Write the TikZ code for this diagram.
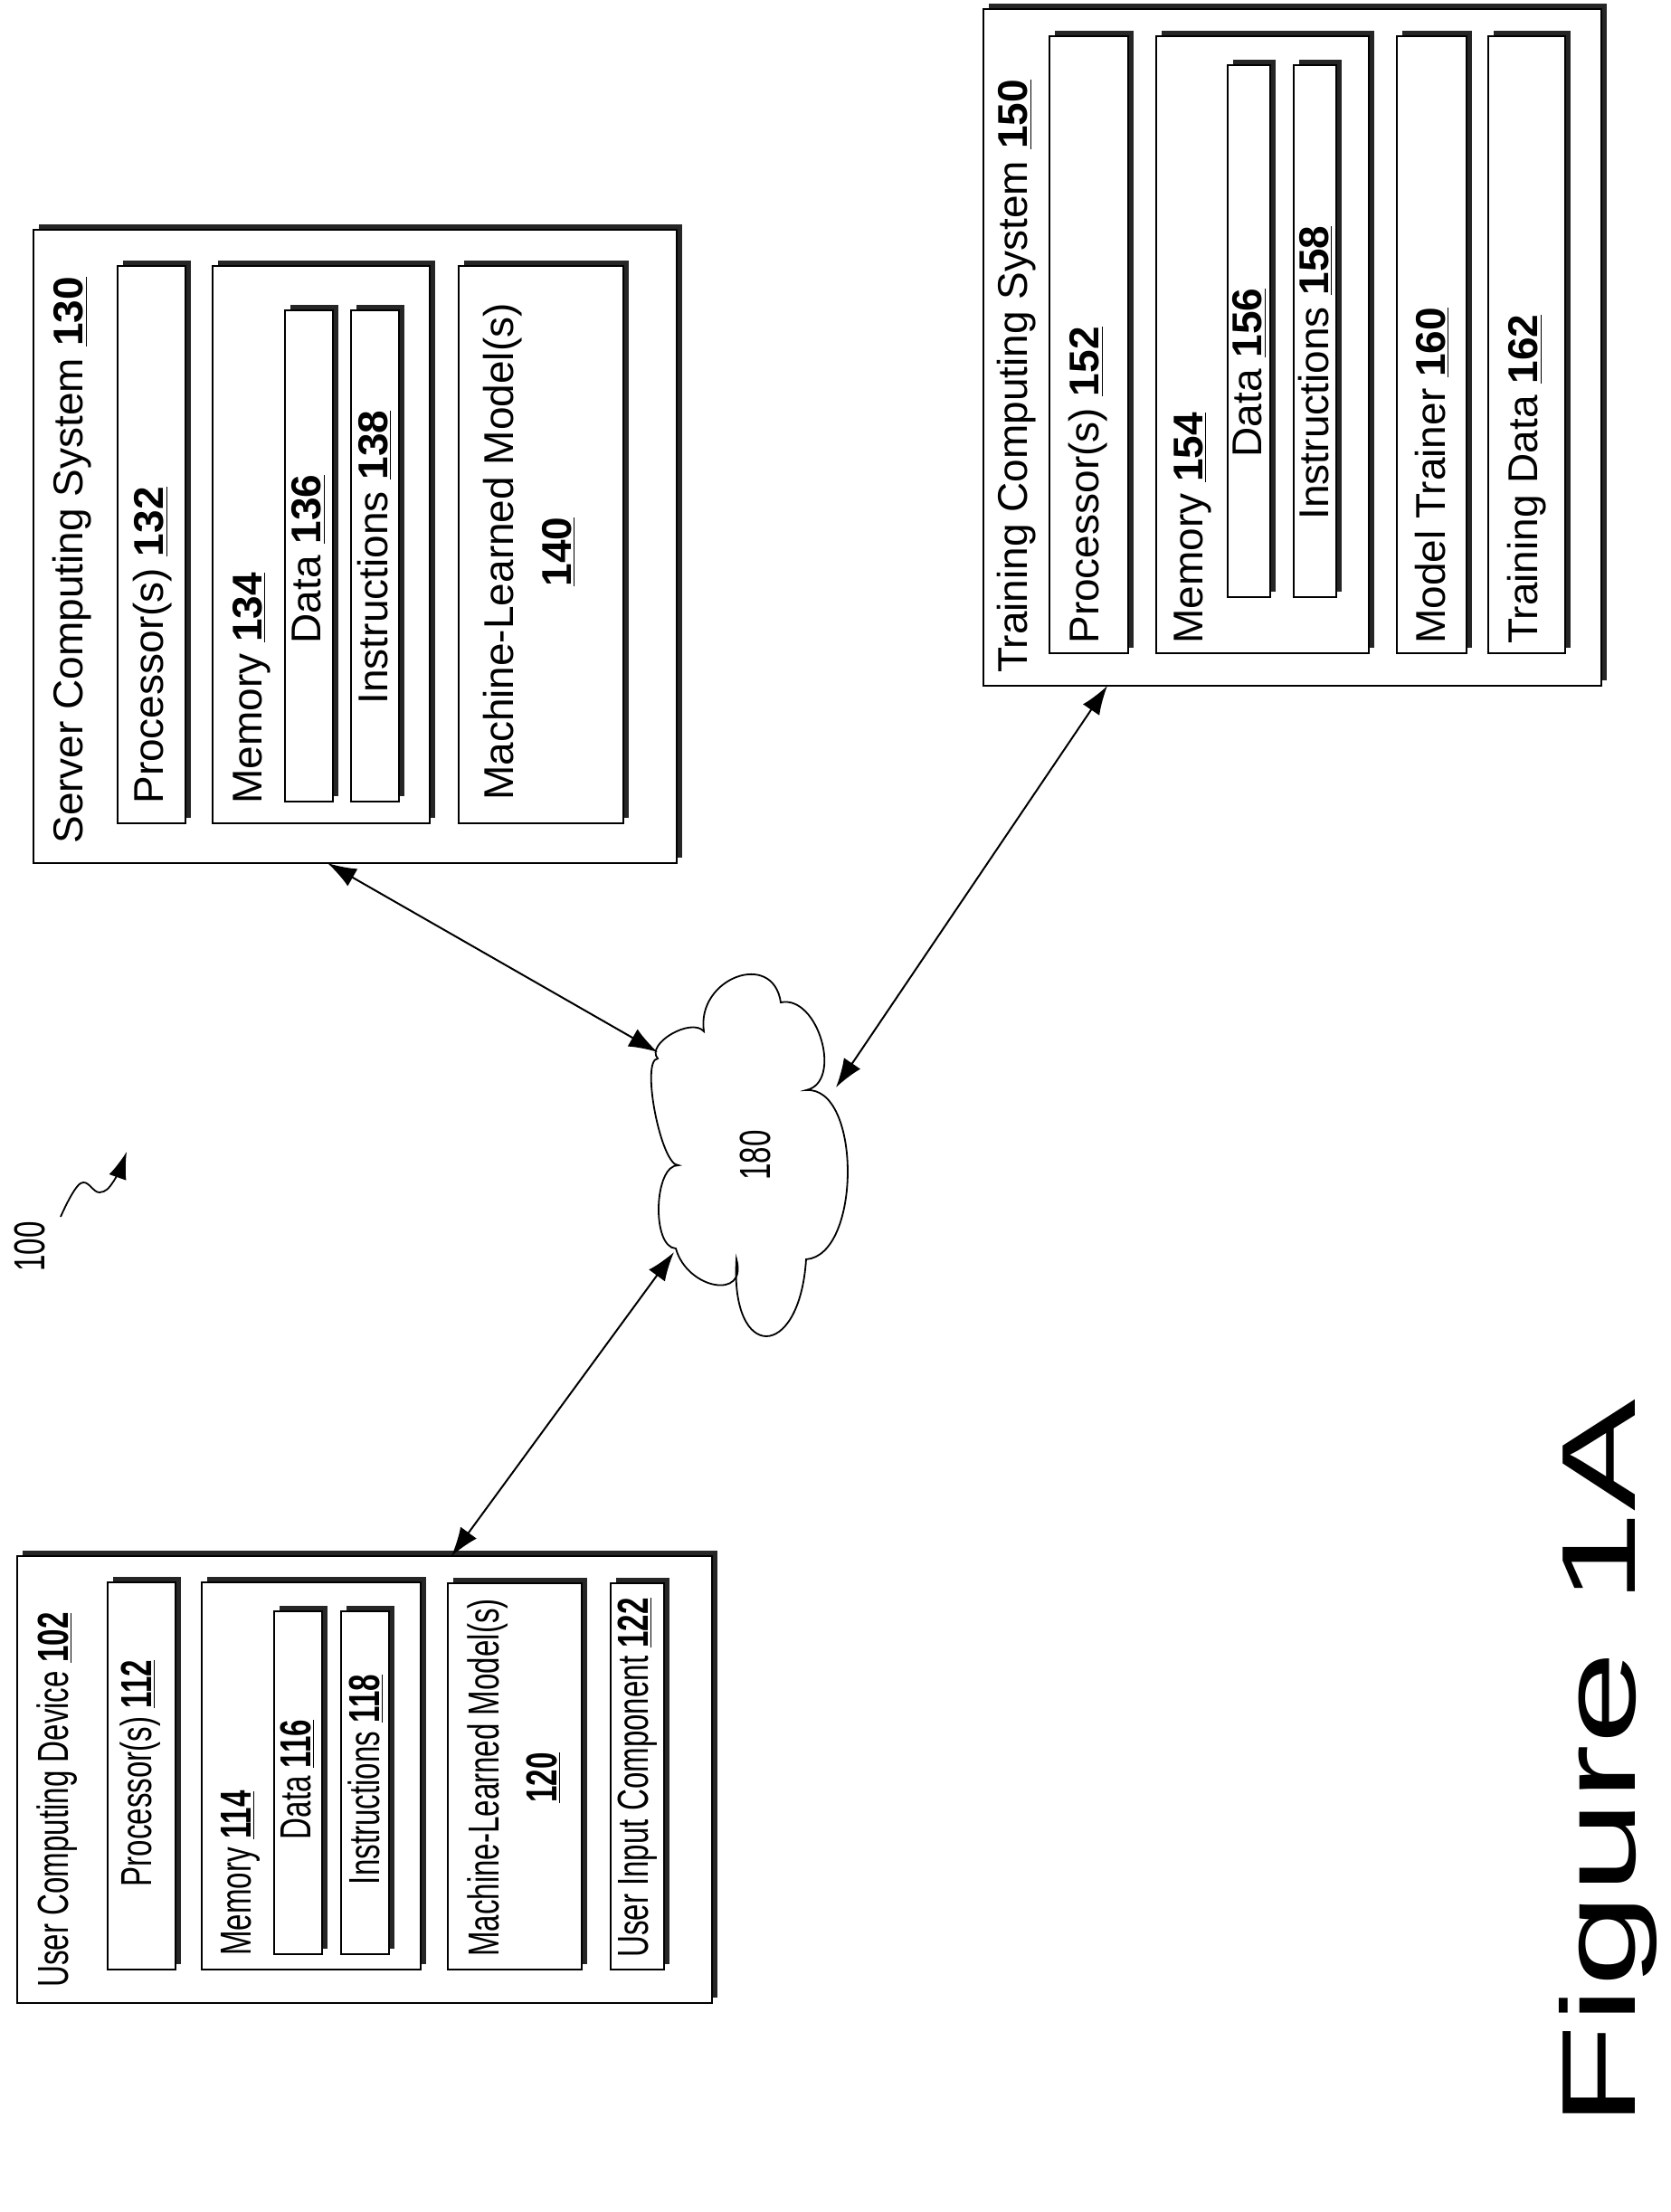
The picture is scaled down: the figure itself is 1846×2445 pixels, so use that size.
\documentclass[tikz,border=0pt]{standalone}
\usepackage{fontspec}
\setmainfont{Liberation Sans}
\usetikzlibrary{arrows.meta,shadows,fit}
\newcommand{\nb}[1]{\textbf{\underline{#1}}}
\begin{document}
\begin{tikzpicture}[x=0.5pt,y=-0.5pt,
  box/.style={draw,line width=1pt,fill=white,inner sep=0pt,
    drop shadow={shadow xshift=3pt,shadow yshift=3pt,fill=black!85,opacity=1}},
  txt/.style={rotate=90,font=\fontsize{23}{27}\selectfont,inner sep=0pt},
  us/.style={xscale=0.69},
  lt/.style={txt,anchor=west},
  ct/.style={txt,align=center},
  link/.style={{Latex[length=16pt,width=11pt]}-{Latex[length=16pt,width=11pt]},line width=1pt}]
\useasboundingbox (0,0) rectangle (1846,2445);
% User computing device
\node[box,fit={(19,1720)(787,2214)}] (user) {};
\node[box,fit={(119,1749)(194,2177)}] (u1) {};
\node[box,fit={(223,1749)(465,2177)}] (u2) {};
\node[box,fit={(303,1781)(356,2160)}] (u3) {};
\node[box,fit={(377,1781)(430,2160)}] (u4) {};
\node[box,fit={(495,1750)(643,2177)}] (u5) {};
\node[box,fit={(675,1750)(734,2177)}] (u6) {};
\node[lt,us,font=\fontsize{24}{28}\selectfont] (ut) at (63,2197) {User Computing Device \nb{102}};
\node[ct,us,font=\fontsize{24}{28}\selectfont] (u1t) at (155,1960) {Processor(s) \nb{112}};
\node[lt,us,font=\fontsize{24}{28}\selectfont] (u2t) at (266,2162) {Memory \nb{114}};
\node[ct,us,font=\fontsize{24}{28}\selectfont] (u3t) at (329,1967) {Data \nb{116}};
\node[ct,us,font=\fontsize{24}{28}\selectfont] (u4t) at (404,1967) {Instructions \nb{118}};
\node[ct,us,font=\fontsize{24}{32}\selectfont] (u5t) at (568,1965) {Machine-Learned Model(s)\\\nb{120}};
\node[ct,us,font=\fontsize{24}{28}\selectfont] (u6t) at (705,1965) {User Input Component \nb{122}};
% Server
\node[box,fit={(37,254)(748,954)}] (server) {};
\node[box,fit={(130,294)(205,910)}] (s1) {};
\node[box,fit={(235,294)(475,910)}] (s2) {};
\node[box,fit={(315,343)(368,886)}] (s3) {};
\node[box,fit={(388,343)(441,886)}] (s4) {};
\node[box,fit={(507,294)(689,910)}] (s5) {};
\node[lt] (st) at (80,933) {Server Computing System \nb{130}};
\node[lt] (s1t) at (169,889) {Processor(s) \nb{132}};
\node[lt] (s2t) at (278,889) {Memory \nb{134}};
\node[ct] (s3t) at (341,618) {Data \nb{136}};
\node[ct] (s4t) at (414,616) {Instructions \nb{138}};
\node[ct,font=\fontsize{23}{32}\selectfont] (s5t) at (585,610) {Machine-Learned Model(s)\\\nb{140}};
% Training
\node[box,fit={(1087,10)(1770,758)}] (train) {};
\node[box,fit={(1160,40)(1247,722)}] (t1) {};
\node[box,fit={(1278,40)(1513,722)}] (t2) {};
\node[box,fit={(1357,72)(1404,660)}] (t3) {};
\node[box,fit={(1430,72)(1477,660)}] (t4) {};
\node[box,fit={(1544,40)(1621,722)}] (t5) {};
\node[box,fit={(1645,40)(1730,722)}] (t6) {};
\node[lt] (tt) at (1124,744) {Training Computing System \nb{150}};
\node[lt] (t1t) at (1203,712) {Processor(s) \nb{152}};
\node[lt] (t2t) at (1318,712) {Memory \nb{154}};
\node[ct] (t3t) at (1381,412) {Data \nb{156}};
\node[ct] (t4t) at (1454,412) {Instructions \nb{158}};
\node[lt] (t5t) at (1583,712) {Model Trainer \nb{160}};
\node[lt] (t6t) at (1688,712) {Training Data \nb{162}};
% Cloud
\draw[line width=0.9pt] (727,1170) .. controls (707.7,1171.3) and (730.7,1289.3) .. (750,1288)
  .. controls (722.7,1286.7) and (719.7,1378.7) .. (747,1380)
  .. controls (759.7,1425.3) and (826.7,1437.3) .. (814,1392)
  .. controls (806.7,1505.3) and (883.7,1505.3) .. (891,1392)
  .. controls (952.3,1387.3) and (952.3,1200.3) .. (891,1205)
  .. controls (932.3,1196.3) and (904.3,1099.3) .. (863,1108)
  .. controls (854.3,1049.3) and (769.3,1081.3) .. (778,1140)
  .. controls (764,1124) and (713,1154) .. cycle;
\node[txt,us,font=\fontsize{24}{28}\selectfont] (cloud) at (835,1277) {180};
\coordinate (cu) at (745,1384);
\coordinate (cs) at (727,1163);
\coordinate (ct) at (924,1202);
\coordinate (ua) at (499,1720);
\coordinate (sa) at (362,954);
\coordinate (ta) at (1224,758);
\draw[link] (ua) -- (cu);
\draw[link] (sa) -- (cs);
\draw[link] (ta) -- (ct);
% 100 label
\node[txt,us,font=\fontsize{24}{28}\selectfont] (lbl) at (33,1378) {100};
\draw[line width=0.9pt,-{Latex[length=15pt,width=10pt]}] plot[smooth,tension=0.7] coordinates {(67,1345) (89,1308) (110,1318) (126,1305) (140,1273)};
% Figure label
\node[rotate=90,inner sep=0pt,font=\fontsize{58}{60}\selectfont,xscale=1.6] (fig) at (1777,1949) {Figure 1A};
\end{tikzpicture}
\end{document}
